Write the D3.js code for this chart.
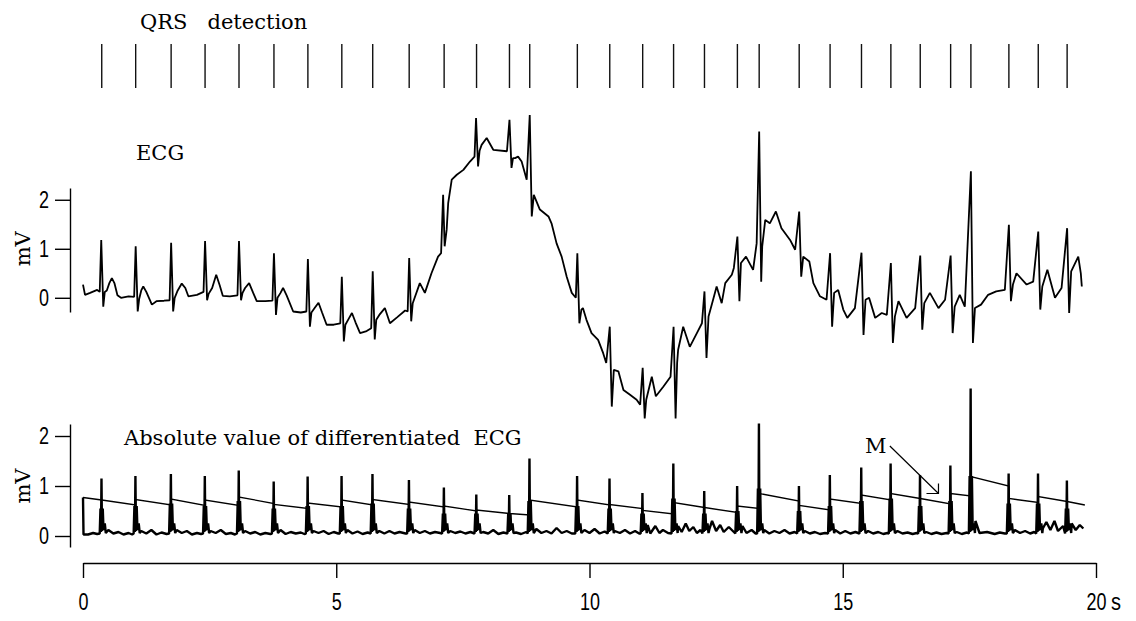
<!DOCTYPE html>
<html>
<head>
<meta charset="utf-8">
<script src="https://cdn.jsdelivr.net/npm/d3@7"></script>
<style>
	body { margin: 0; background: #fff; }
	svg { display: block; }
</style>
</head>
<body>
<script>
//everything inside an anonymous function so nothing leaks to global scope
(function () {
	//detected QRS complexes (s)
	var qrsTimes = [0.37, 1.04, 1.74, 2.41, 3.08, 3.77, 4.44, 5.11, 5.72, 6.44, 7.13, 7.77, 8.42, 8.82, 9.76,
		10.40, 11.05, 11.66, 12.27, 12.92, 13.35, 14.14, 14.75, 15.37, 15.95, 16.53, 17.13, 17.53, 18.28, 18.86, 19.43];

	//ECG trace vertices [s, mV]
	var ecgTrace = [
		[0.00,0.27],[0.04,0.06],[0.14,0.10],[0.28,0.16],[0.33,0.12],[0.36,1.18],[0.40,-0.18],[0.43,0.12],
		[0.47,0.15],[0.52,0.30],[0.57,0.40],[0.62,0.30],[0.68,0.05],[0.75,0.00],[0.90,0.03],[1.01,0.02],
		[1.04,1.05],[1.08,-0.28],[1.11,-0.02],[1.15,0.15],[1.19,0.23],[1.25,0.12],[1.36,-0.14],[1.45,-0.07],[1.60,-0.06],[1.71,-0.05],
		[1.74,1.12],[1.78,-0.28],[1.81,0.00],[1.87,0.15],[1.95,0.29],[2.02,0.20],[2.08,0.03],[2.25,0.06],[2.38,0.12],
		[2.41,1.16],[2.45,-0.05],[2.48,0.08],[2.55,0.20],[2.63,0.47],[2.70,0.25],[2.76,0.04],[2.90,0.03],[3.05,0.05],
		[3.08,1.16],[3.12,-0.05],[3.15,0.10],[3.20,0.20],[3.28,0.30],[3.36,0.10],[3.43,-0.07],[3.60,-0.07],[3.74,-0.06],
		[3.77,0.91],[3.81,-0.35],[3.84,0.00],[3.90,0.10],[3.95,0.20],[4.02,0.05],[4.15,-0.28],[4.30,-0.30],[4.41,-0.28],
		[4.44,0.79],[4.48,-0.59],[4.51,-0.30],[4.58,-0.20],[4.65,-0.10],[4.72,-0.30],[4.81,-0.55],[4.95,-0.55],[5.08,-0.52],
		[5.11,0.43],[5.15,-0.89],[5.18,-0.55],[5.25,-0.42],[5.31,-0.31],[5.38,-0.50],[5.47,-0.72],[5.60,-0.68],[5.69,-0.62],
		[5.72,0.54],[5.76,-0.85],[5.79,-0.45],[5.85,-0.35],[5.96,-0.21],[6.06,-0.52],[6.20,-0.40],[6.36,-0.26],[6.41,-0.28],
		[6.44,0.81],[6.48,-0.48],[6.51,-0.11],[6.65,0.30],[6.75,0.10],[6.88,0.50],[7.01,0.84],[7.07,0.91],
		[7.11,2.10],[7.14,1.05],[7.18,1.39],[7.21,1.93],[7.28,2.41],[7.38,2.51],[7.51,2.61],[7.64,2.78],[7.73,2.88],
		[7.76,3.67],[7.80,2.68],[7.83,3.00],[7.87,3.12],[7.97,3.26],[8.10,3.02],[8.37,2.99],
		[8.42,3.63],[8.46,2.65],[8.49,2.85],[8.53,2.85],[8.59,2.88],[8.66,2.78],[8.76,2.41],
		[8.82,3.73],[8.86,1.66],[8.90,2.10],[9.02,1.80],[9.19,1.66],[9.25,1.52],[9.35,1.11],[9.45,0.84],[9.55,0.43],[9.65,0.10],[9.73,0.00],
		[9.76,0.91],[9.80,-0.52],[9.84,-0.24],[9.87,-0.21],[9.94,-0.45],[10.04,-0.72],[10.17,-0.86],[10.27,-1.13],[10.33,-1.33],
		[10.40,-0.59],[10.44,-2.22],[10.48,-1.47],[10.57,-1.50],[10.67,-1.88],[10.80,-1.98],[10.93,-2.08],[11.00,-2.18],
		[11.05,-1.43],[11.09,-2.46],[11.12,-2.08],[11.23,-1.61],[11.31,-2.01],[11.46,-1.81],[11.60,-1.61],
		[11.66,-0.59],[11.70,-2.46],[11.73,-1.33],[11.75,-1.06],[11.85,-0.59],[11.98,-1.00],[12.12,-0.72],[12.22,-0.52],
		[12.27,0.13],[12.31,-1.23],[12.35,-0.38],[12.44,-0.04],[12.51,0.23],[12.61,-0.11],[12.68,0.30],[12.81,0.47],[12.85,0.61],
		[12.92,1.25],[12.96,-0.07],[12.99,0.71],[13.09,0.84],[13.23,0.57],[13.30,1.11],
		[13.35,3.39],[13.39,0.33],[13.41,1.05],[13.47,1.59],[13.56,1.52],[13.68,1.76],[13.79,1.42],[13.96,1.18],[14.06,0.98],
		[14.14,1.76],[14.18,0.43],[14.22,0.84],[14.34,0.74],[14.42,0.30],[14.55,0.03],[14.68,-0.04],
		[14.75,0.91],[14.79,-0.59],[14.83,0.10],[14.91,0.16],[15.01,-0.24],[15.09,-0.41],[15.24,-0.21],
		[15.37,0.92],[15.41,-0.76],[15.45,-0.04],[15.52,0.00],[15.64,-0.41],[15.77,-0.31],[15.87,-0.35],
		[15.95,0.71],[15.99,-0.92],[16.03,-0.38],[16.10,-0.07],[16.26,-0.41],[16.43,-0.21],
		[16.53,0.86],[16.57,-0.65],[16.61,-0.11],[16.72,0.10],[16.89,-0.21],[17.02,-0.04],
		[17.13,0.86],[17.17,-0.72],[17.21,-0.18],[17.31,0.06],[17.41,-0.18],
		[17.53,2.58],[17.57,-0.92],[17.61,-0.21],[17.73,-0.14],[17.87,0.06],[18.03,0.13],[18.20,0.16],
		[18.28,1.49],[18.32,-0.07],[18.36,0.27],[18.43,0.50],[18.63,0.27],[18.76,0.33],
		[18.86,1.35],[18.90,-0.24],[18.94,0.23],[19.04,0.57],[19.19,0.00],[19.32,0.20],
		[19.43,1.42],[19.47,-0.31],[19.51,0.54],[19.65,0.84],[19.70,0.50],[19.72,0.23]
	];

	//abs(dECG/dt) between the spikes [s, mV]
	var diffBase = [
		[0.00,0.77],[0.01,0.03],[0.10,0.03],[0.20,0.06],[0.28,0.04],
		[0.50,0.12],[0.60,0.05],[0.70,0.08],[0.80,0.03],[0.90,0.06],[0.97,0.03],
		[1.15,0.10],[1.25,0.05],[1.35,0.12],[1.45,0.03],[1.55,0.07],[1.65,0.04],
		[1.85,0.12],[1.95,0.06],[2.05,0.10],[2.15,0.03],[2.25,0.06],[2.33,0.04],
		[2.52,0.10],[2.62,0.06],[2.72,0.12],[2.82,0.04],[2.92,0.06],[3.00,0.03],
		[3.20,0.10],[3.30,0.05],[3.40,0.08],[3.50,0.03],[3.60,0.06],[3.70,0.04],
		[3.90,0.12],[4.00,0.04],[4.10,0.08],[4.20,0.05],[4.30,0.07],[4.37,0.04],
		[4.55,0.10],[4.65,0.06],[4.75,0.10],[4.85,0.04],[4.95,0.08],[5.04,0.05],
		[5.22,0.12],[5.32,0.05],[5.42,0.09],[5.52,0.04],[5.62,0.07],
		[5.85,0.10],[5.95,0.05],[6.05,0.10],[6.15,0.05],[6.25,0.08],[6.37,0.05],
		[6.55,0.12],[6.65,0.06],[6.75,0.10],[6.85,0.05],[6.95,0.08],[7.05,0.06],
		[7.25,0.10],[7.35,0.06],[7.45,0.09],[7.55,0.05],[7.65,0.08],
		[7.90,0.08],[8.00,0.05],[8.10,0.12],[8.20,0.04],[8.30,0.07],
		[8.55,0.07],[8.65,0.04],[8.75,0.08],
		[8.95,0.14],[9.05,0.06],[9.15,0.10],[9.25,0.05],[9.35,0.16],[9.45,0.06],[9.55,0.10],[9.65,0.05],
		[9.90,0.12],[10.00,0.06],[10.10,0.14],[10.20,0.05],[10.30,0.09],
		[10.50,0.10],[10.60,0.06],[10.70,0.12],[10.80,0.05],[10.90,0.10],[10.98,0.05],
		[11.15,0.22],[11.20,0.05],[11.30,0.20],[11.38,0.06],[11.45,0.12],[11.55,0.06],
		[11.75,0.20],[11.82,0.08],[11.90,0.25],[11.97,0.10],[12.05,0.18],[12.12,0.06],[12.19,0.12],
		[12.37,0.15],[12.42,0.30],[12.50,0.10],[12.58,0.22],[12.65,0.08],[12.75,0.18],[12.85,0.08],
		[13.02,0.20],[13.10,0.06],[13.20,0.12],[13.28,0.05],
		[13.45,0.12],[13.55,0.05],[13.65,0.10],[13.75,0.06],[13.85,0.12],[13.95,0.05],[14.05,0.08],
		[14.25,0.10],[14.35,0.05],[14.45,0.08],[14.55,0.04],[14.65,0.06],
		[14.85,0.12],[14.95,0.05],[15.05,0.10],[15.15,0.05],[15.25,0.08],
		[15.50,0.10],[15.60,0.05],[15.70,0.08],[15.80,0.04],[15.88,0.06],
		[16.08,0.10],[16.18,0.05],[16.28,0.07],[16.38,0.04],[16.46,0.06],
		[16.65,0.08],[16.75,0.04],[16.85,0.07],[16.95,0.04],[17.05,0.06],
		[17.25,0.08],[17.35,0.04],[17.45,0.07],
		[17.62,0.30],[17.70,0.06],[17.85,0.08],[18.00,0.04],[18.10,0.07],[18.20,0.05],
		[18.40,0.12],[18.50,0.06],[18.60,0.10],[18.70,0.05],[18.78,0.08],
		[18.95,0.15],[19.02,0.28],[19.10,0.12],[19.18,0.30],[19.25,0.10],[19.35,0.20],
		[19.52,0.25],[19.60,0.12],[19.68,0.22],[19.75,0.15]
	];

	//spike top and thick base of each QRS in the differentiated trace (mV)
	var diffPeaks = [1.15, 1.20, 1.24, 1.20, 1.31, 1.09, 1.19, 1.20, 1.24, 1.12, 0.97, 0.83, 0.82, 1.55, 1.20,
		1.15, 0.86, 1.45, 0.90, 1.00, 2.25, 1.00, 1.22, 1.37, 1.45, 1.22, 1.41, 2.95, 1.25, 1.25, 1.11];
	var diffShoulders = [0.55, 0.60, 0.65, 0.60, 0.70, 0.55, 0.60, 0.60, 0.65, 0.55, 0.45, 0.45, 0.45, 0.70, 0.60,
		0.55, 0.45, 0.75, 0.45, 0.50, 0.95, 0.50, 0.60, 0.70, 0.75, 0.60, 0.70, 1.20, 0.65, 0.65, 0.55];

	//threshold M: [start s, start mV, end s, end mV] between detections
	var thresholdM = [
		[0.00,0.77,0.37,0.72],[0.37,0.72,1.04,0.62],[1.04,0.73,1.74,0.62],[1.74,0.74,2.41,0.61],
		[2.41,0.72,3.08,0.61],[3.08,0.78,3.77,0.65],[3.77,0.63,4.44,0.55],[4.44,0.66,5.11,0.58],
		[5.11,0.72,5.72,0.62],[5.72,0.73,6.44,0.63],[6.44,0.68,7.13,0.58],[7.13,0.60,7.77,0.50],
		[7.77,0.52,8.42,0.45],[8.42,0.45,8.82,0.42],[8.82,0.72,9.76,0.58],[9.76,0.72,10.40,0.62],
		[10.40,0.63,11.05,0.55],[11.05,0.51,11.66,0.44],[11.66,0.67,12.27,0.57],[12.27,0.57,12.92,0.47],
		[12.92,0.60,13.35,0.55],[13.35,0.85,14.14,0.70],[14.14,0.61,14.75,0.52],[14.75,0.74,15.37,0.65],
		[15.37,0.82,15.95,0.72],[15.95,0.85,16.53,0.75],[16.53,0.75,17.13,0.64],[17.13,0.85,17.53,0.80],
		[17.53,1.19,18.28,1.00],[18.28,0.75,18.86,0.67],[18.86,0.79,19.43,0.69],[19.43,0.69,19.78,0.62]
	];

	var yTicks = [0, 1, 2];
	var xTicks = [0, 5, 10, 15, 20];

	var width = 1136,
		height = 621;

	var svg = d3.select("body")
		.append("svg")
		.attr("width", width)
		.attr("height", height);

	//time scale shared by all three strips
	var x = d3.scaleLinear().domain([0, 20]).range([83, 1096]);
	//ECG strip and differentiated strip (domain = drawn axis extent)
	var yEcg = d3.scaleLinear().domain([-0.29, 2.24]).range([312, 188]);
	var yDiff = d3.scaleLinear().domain([-0.22, 2.24]).range([547, 424]);

	var serif = "'DejaVu Serif', serif";
	var sans = "'Liberation Sans', Arial, sans-serif";

	//narrow digits like the original axis font
	function narrowDigits(sel) {
		sel.attr("font-family", sans)
			.attr("font-size", 23)
			.attr("lengthAdjust", "spacingAndGlyphs")
			.attr("textLength", function () { return this.textContent.length * 10; });
	}

	//QRS detection marks
	svg.append("text")
		.attr("x", 140)
		.attr("y", 29)
		.attr("font-family", serif)
		.attr("font-size", 21)
		.attr("xml:space", "preserve")
		.style("white-space", "pre")
		.text("QRS   detection");

	svg.selectAll(".qrs")
		.data(qrsTimes)
		.enter()
		.append("line")
		.attr("class", "qrs")
		.attr("x1", function (d) { return x(d); })
		.attr("x2", function (d) { return x(d); })
		.attr("y1", 44)
		.attr("y2", 88)
		.attr("stroke", "#111")
		.attr("stroke-width", 1.4);

	//ECG
	svg.append("text")
		.attr("x", 136)
		.attr("y", 160)
		.attr("font-family", serif)
		.attr("font-size", 21)
		.text("ECG");

	var ecgLine = d3.line()
		.x(function (d) { return x(d[0]); })
		.y(function (d) { return yEcg(d[1]); });

	svg.append("path")
		.datum(ecgTrace)
		.attr("fill", "none")
		.attr("stroke", "#000")
		.attr("stroke-width", 1.8)
		.attr("stroke-linejoin", "bevel")
		.attr("d", ecgLine);

	//differentiated ECG: base noise plus one spike per detected beat
	var diffPoints = diffBase.slice();
	qrsTimes.forEach(function (t, i) {
		var p = diffPeaks[i], s = diffShoulders[i];
		diffPoints.push([t - 0.04, 0.05], [t - 0.025, s], [t - 0.015, 0.08], [t - 0.005, p],
			[t + 0.005, 0.1], [t + 0.02, s], [t + 0.035, 0.12], [t + 0.06, 0.25], [t + 0.08, 0.06]);
	});
	diffPoints.sort(function (a, b) { return a[0] - b[0]; });

	var diffLine = d3.line()
		.x(function (d) { return x(d[0]); })
		.y(function (d) { return yDiff(d[1]); });

	svg.append("path")
		.datum(diffPoints)
		.attr("fill", "none")
		.attr("stroke", "#000")
		.attr("stroke-width", 2.4)
		.attr("stroke-linejoin", "bevel")
		.attr("d", diffLine);

	//threshold M as a stepped line
	var mPoints = [];
	thresholdM.forEach(function (seg) {
		mPoints.push([seg[0], seg[1]], [seg[2], seg[3]]);
	});
	svg.append("path")
		.datum(mPoints)
		.attr("fill", "none")
		.attr("stroke", "#000")
		.attr("stroke-width", 1.3)
		.attr("d", diffLine);

	svg.append("text")
		.attr("x", 124)
		.attr("y", 445)
		.attr("font-family", serif)
		.attr("font-size", 21)
		.attr("xml:space", "preserve")
		.style("white-space", "pre")
		.text("Absolute value of differentiated  ECG");

	//label M with its arrow
	svg.append("text")
		.attr("x", x(15.44))
		.attr("y", yDiff(1.66))
		.attr("font-family", serif)
		.attr("font-size", 21)
		.text("M");

	var ax0 = x(15.93), ay0 = yDiff(1.8), ax1 = x(16.89), ay1 = yDiff(0.85);
	svg.append("path")
		.attr("fill", "none")
		.attr("stroke", "#000")
		.attr("stroke-width", 1.2)
		.attr("d", "M" + ax0 + "," + ay0 + "L" + ax1 + "," + ay1 +
			"M" + (ax1 - 12) + "," + ay1 + "L" + ax1 + "," + ay1 + "L" + ax1 + "," + (ay1 - 10));

	//axes
	function styleAxis(g) {
		g.selectAll(".domain").attr("stroke", "#000").attr("stroke-width", 1.4);
		g.selectAll(".tick line").attr("stroke", "#000").attr("stroke-width", 1.4);
		g.selectAll(".tick text").attr("fill", "#000").call(narrowDigits);
	}

	var yAxisEcg = d3.axisLeft(yEcg).tickValues(yTicks).tickSize(15).tickSizeOuter(0).tickPadding(6)
		.tickFormat(d3.format("d"));
	svg.append("g")
		.attr("transform", "translate(70,0)")
		.call(yAxisEcg)
		.call(styleAxis);

	var yAxisDiff = d3.axisLeft(yDiff).tickValues(yTicks).tickSize(15).tickSizeOuter(0).tickPadding(6)
		.tickFormat(d3.format("d"));
	svg.append("g")
		.attr("transform", "translate(70,0)")
		.call(yAxisDiff)
		.call(styleAxis);

	var xAxis = d3.axisBottom(x).tickValues(xTicks).tickSize(15).tickSizeOuter(0).tickPadding(16)
		.tickFormat(d3.format("d"));
	svg.append("g")
		.attr("transform", "translate(0,563)")
		.call(xAxis)
		.call(styleAxis);

	//unit after the last time label, on the same baseline
	svg.append("text")
		.attr("x", x(20) + 15)
		.attr("y", 563 + 15 + 16 + 0.71 * 23)
		.text("s")
		.call(narrowDigits);

	//mV units
	[[yEcg, 1], [yDiff, 1]].forEach(function (u) {
		svg.append("text")
			.attr("transform", "translate(30," + u[0](u[1]) + ") rotate(-90)")
			.attr("text-anchor", "middle")
			.attr("font-family", serif)
			.attr("font-size", 21)
			.text("mV");
	});
})();
</script>
</body>
</html>
